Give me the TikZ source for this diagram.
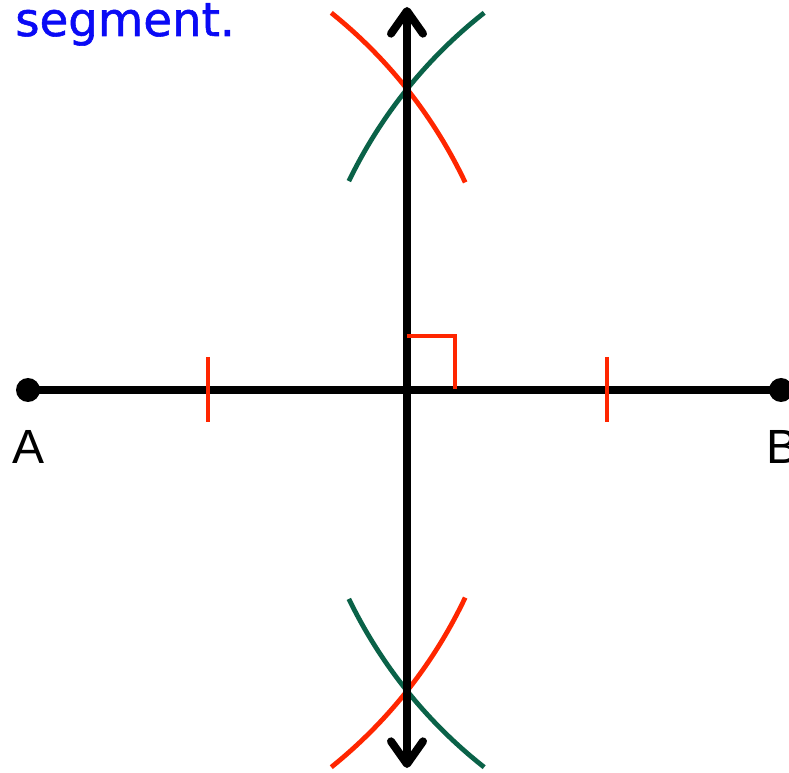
\documentclass[tikz,border=0pt]{standalone}
\usepackage{fontspec}
\setmainfont{Liberation Sans}
\newfontfamily\notefont[FakeBold=1.2]{DejaVu Sans}
\usepackage{tikz}
\usetikzlibrary{arrows.meta, positioning, calc}
\usepackage{xcolor}
\definecolor{markred}{RGB}{255,38,0}
\definecolor{arcgreen}{RGB}{10,98,72}
\definecolor{noteblue}{RGB}{10,10,245}

\tikzset{
  segline/.style={line width=6pt, black},
  redarc/.style={line width=3.6pt, markred},
  greenarc/.style={line width=3.6pt, arcgreen},
  tickmark/.style={line width=3.4pt, markred},
  endpt/.style={circle, fill=black, inner sep=0pt, minimum size=18pt},
  ptlabel/.style={font=\fontsize{36}{36}\selectfont, inner sep=0pt}
}

\begin{document}
\begin{tikzpicture}[x=0.75pt, y=0.75pt]
  \clip (0,0) rectangle (789,772);
  % Strecke AB
  \node[endpt] (A) at (28,382) {};
  \node[endpt] (B) at (781,382) {};
  \coordinate (M) at (407,382);
  \draw[segline] (A.center) -- (B.center);
  % Markierungen
  \coordinate (t1) at (208,415);
  \coordinate (t2) at (208,350);
  \coordinate (t3) at (607,415);
  \coordinate (t4) at (607,350);
  \draw[tickmark] (t1) -- (t2);
  \draw[tickmark] (t3) -- (t4);
  % Kreisboegen
  \draw[redarc] ([shift={(25.4:484)}]A.center) arc[start angle=25.4, end angle=51.2, radius=484];
  \draw[redarc] ([shift={(-25.4:484)}]A.center) arc[start angle=-25.4, end angle=-51.2, radius=484];
  \draw[greenarc] ([shift={(128.2:480)}]B.center) arc[start angle=128.2, end angle=154.2, radius=480];
  \draw[greenarc] ([shift={(-128.2:480)}]B.center) arc[start angle=-128.2, end angle=-154.2, radius=480];
  % Mittelsenkrechte
  \coordinate (P) at (407,765);
  \coordinate (Q) at (407,4);
  \draw[segline, {Straight Barb[length=17pt, width=24pt, round]}-{Straight Barb[length=17pt, width=24pt, round]}] (Q) -- (P);
  % rechter Winkel
  \draw[tickmark] (407,436) -| (455,383);
  % Beschriftung
  \node[ptlabel, anchor=base west] (lA) at (12,308) {A};
  \node[ptlabel, anchor=base west] (lB) at (766,308) {B};
  \node[anchor=base west, inner sep=0pt, text=noteblue, font=\notefont\fontsize{35}{35}\selectfont] (note) at (15,736) {segment.};
\end{tikzpicture}
\end{document}
